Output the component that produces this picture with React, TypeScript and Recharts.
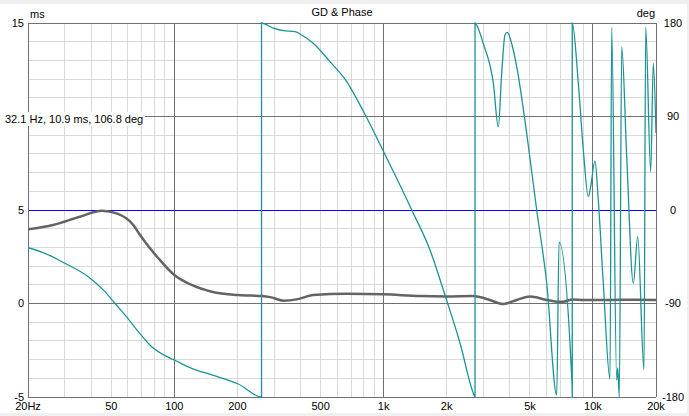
import { ComposedChart, Line, XAxis, YAxis, ReferenceLine } from "recharts";

// group delay (ms)
const gdFreq = [20, 26.4, 35.4, 45, 53, 63.7, 68.6, 76.5, 83.9, 100, 121, 151, 202, 263, 287, 332, 384, 461, 666, 1000, 1492, 2000, 2672, 3221, 3716, 4322, 5000, 6012, 6712, 7192, 8000, 9000, 12000, 16000, 20000];
const gdMs = [3.97, 4.2, 4.64, 4.96, 4.82, 4.2, 3.66, 2.95, 2.42, 1.52, 0.99, 0.63, 0.45, 0.4, 0.34, 0.15, 0.22, 0.45, 0.52, 0.49, 0.4, 0.38, 0.4, 0.19, -0.03, 0.19, 0.37, 0.19, 0.1, 0.1, 0.22, 0.19, 0.19, 0.2, 0.19];

// wrapped phase (deg), repeated frequency = wrap jump
const phFreq = [20, 24.1, 30, 38.8, 46.6, 52, 58.1, 67.3, 78, 90.3, 100, 121, 151, 202, 261,
  261, 297, 332, 377, 406, 461, 554, 666, 800, 1000, 1362, 1665, 1964, 2316, 2702, 2732,
  2732, 2782, 2993, 3342, 3530, 3664, 3798, 3897, 4090, 4322, 4824, 5384, 6012, 6712, 6884, 7940, 7960,
  7960, 8512, 8992, 9500, 9750, 10222, 10600, 11200, 12060, 12285, 12980, 13126, 13358, 13714, 14492, 15586, 16358, 17526, 17856, 18868, 19414, 20000];
const phDeg = [-36.3, -41.7, -51.3, -64.2, -78.6, -89.8, -101, -117.1, -131.6, -140.2, -144.4, -152.4, -158.8, -167.5, -180,
  180, 175, 172.6, 171.6, 168.5, 160.4, 142.8, 123.6, 95, 56, 0, -38.5, -82, -128, -178, -180,
  180, 178, 160, 122, 80, 131.6, 168.4, 171, 160, 138, 73.8, 0, -70.5, -178, -31, -168, -180,
  180, 122, 57.8, 12.8, 22.5, 47.2, 9.6, -70.5, -163, 176, -163.6, -152, -180, 157, 51.3, -70.5, -25.7, -154, 176, 36.9, 141, 74];

const freqTicks = [20, 50, 100, 200, 500, 1000, 2000, 5000, 10000, 20000];
const minorFreqs = [30, 40, 50, 60, 70, 80, 90, 200, 300, 400, 500, 600, 700, 800, 900, 2000, 3000, 4000, 5000, 6000, 7000, 8000, 9000];
const majorFreqs = [100, 1000, 10000];
const msTicks = [-5, 0, 5, 10, 15];
const degTicks = [-180, -90, 0, 90, 180];
const minorMs = [-4, -3, -2, -1, 1, 2, 3, 4, 6, 7, 8, 9, 11, 12, 13, 14];
const majorMs = [0, 10];

const gdData = gdFreq.map((f, i) => ({ f, ms: gdMs[i] }));
const phData = phFreq.map((f, i) => ({ f, deg: phDeg[i] }));

const FONT = "'Liberation Sans', Arial, sans-serif";
const MINOR = "#d9d9d9";
const MAJOR = "#707070";

const fmtFreq = (f: number) =>
  f === 20 ? "20Hz" : f >= 1000 ? `${f / 1000}k` : String(f);

const RightTick = (props: any) => {
  const { x, y, payload } = props;
  return (
    <text x={x} y={y} dy="0.355em" textAnchor="middle" fill="#000" fontSize={11} fontFamily={FONT}>
      {payload.value}
    </text>
  );
};

export default function App() {
  return (
    <div style={{ position: "fixed", left: 0, top: 0, width: 689, height: 416, background: "#f0f0f0", fontFamily: FONT }}>
      <div style={{ position: "absolute", left: 0, top: 4, width: 687, height: 409, background: "#fff" }} />
      <div style={{ position: "absolute", left: 0, top: 0 }}>
        <ComposedChart width={689} height={416} margin={{ top: 23, right: 0, bottom: 0, left: 0 }}>
          <XAxis
            dataKey="f"
            type="number"
            scale="log"
            domain={[20, 20000]}
            allowDataOverflow
            ticks={freqTicks}
            tickFormatter={fmtFreq}
            interval={0}
            height={19}
            tickSize={0}
            tickMargin={5}
            axisLine={false}
            tick={{ fill: "#000", fontSize: 11, fontFamily: FONT }}
          />
          <YAxis
            yAxisId="ms"
            domain={[-5, 15]}
            ticks={msTicks}
            interval={0}
            width={28}
            tickSize={0}
            tickMargin={4}
            axisLine={false}
            tick={{ fill: "#000", fontSize: 11, fontFamily: FONT }}
          />
          <YAxis
            yAxisId="deg"
            orientation="right"
            domain={[-180, 180]}
            ticks={degTicks}
            interval={0}
            width={33}
            tickSize={0}
            tickMargin={17}
            axisLine={false}
            tick={<RightTick />}
          />

          {minorFreqs.map((f) => (
            <ReferenceLine key={`mf${f}`} x={f} yAxisId="ms" stroke={MINOR} shapeRendering="crispEdges" />
          ))}
          {minorMs.map((v) => (
            <ReferenceLine key={`mm${v}`} y={v} yAxisId="ms" stroke={MINOR} shapeRendering="crispEdges" />
          ))}
          {majorFreqs.map((f) => (
            <ReferenceLine key={`Mf${f}`} x={f} yAxisId="ms" stroke={MAJOR} shapeRendering="crispEdges" />
          ))}
          {majorMs.map((v) => (
            <ReferenceLine key={`Mm${v}`} y={v} yAxisId="ms" stroke={MAJOR} shapeRendering="crispEdges" />
          ))}
          <ReferenceLine y={5} yAxisId="ms" stroke="#0000ff" shapeRendering="crispEdges" />
          <ReferenceLine x={20} yAxisId="ms" stroke={MAJOR} shapeRendering="crispEdges" />
          <ReferenceLine x={20000} yAxisId="ms" stroke={MAJOR} shapeRendering="crispEdges" />
          <ReferenceLine y={15} yAxisId="ms" stroke={MAJOR} shapeRendering="crispEdges" />
          <ReferenceLine y={-5} yAxisId="ms" stroke={MAJOR} shapeRendering="crispEdges" />

          <Line
            data={gdData}
            dataKey="ms"
            yAxisId="ms"
            type="monotone"
            stroke="#646464"
            strokeWidth={2.5}
            dot={false}
            isAnimationActive={false}
          />
          <Line
            data={phData}
            dataKey="deg"
            yAxisId="deg"
            type="monotone"
            stroke="#1b9494"
            strokeWidth={1.3}
            dot={false}
            isAnimationActive={false}
          />
        </ComposedChart>
      </div>
      <div style={{ position: "absolute", left: 0, top: 6, width: 684, textAlign: "center", fontSize: 11, lineHeight: "13px" }}>
        GD &amp; Phase
      </div>
      <div style={{ position: "absolute", left: 30, top: 8, fontSize: 11, lineHeight: "13px" }}>ms</div>
      <div style={{ position: "absolute", right: 689 - 655, top: 7, fontSize: 11, lineHeight: "13px" }}>deg</div>
      <div style={{ position: "absolute", left: 4, top: 112, padding: "0 2px 0 1px", background: "#fff", fontSize: 11, lineHeight: "14px" }}>
        32.1 Hz, 10.9 ms, 106.8 deg
      </div>
    </div>
  );
}
